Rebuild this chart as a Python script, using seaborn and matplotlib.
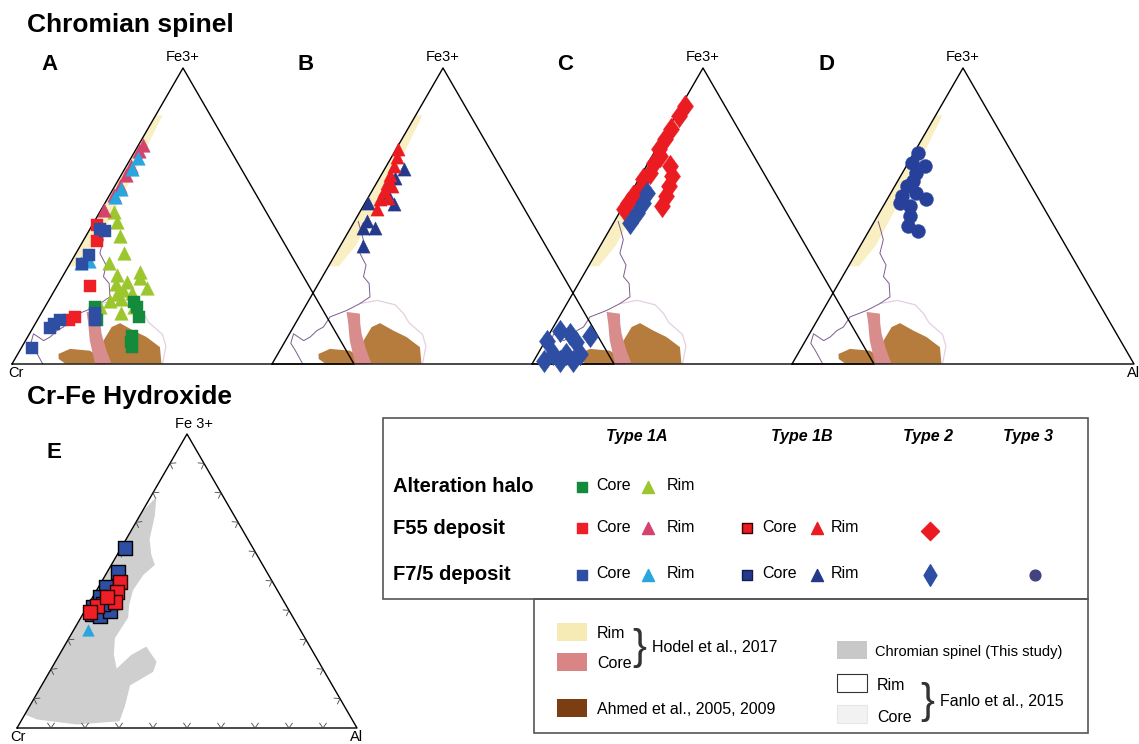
import numpy as np
import pandas as pd
import matplotlib
matplotlib.use("Agg")
import matplotlib.pyplot as plt
from matplotlib.patches import Polygon, Rectangle
import seaborn as sns

sns.set_style("white")
plt.rcParams['font.family'] = ['Liberation Sans', 'DejaVu Sans']
plt.rcParams['text.color'] = 'black'

# ---- data (ternary fractions: Fe3+ and Al, Cr is the rest) ----
# panel A - Type 1A
a_f55_rim_fe = [0.74, 0.72, 0.67, 0.64, 0.60, 0.57, 0.52]
a_f55_rim_al = [0.012, 0.010, 0.012, 0.014, 0.015, 0.012, 0.010]
a_f75_rim_fe = [0.695, 0.66, 0.59, 0.565, 0.342, 0.348]
a_f75_rim_al = [0.02, 0.02, 0.025, 0.02, 0.03, 0.05]
a_alt_rim_fe = [0.513, 0.481, 0.433, 0.374, 0.342, 0.31, 0.30, 0.278, 0.257, 0.235,
                0.214, 0.193, 0.193, 0.171, 0.29, 0.24, 0.22, 0.27, 0.25]
a_alt_rim_al = [0.041, 0.067, 0.10, 0.14, 0.112, 0.22, 0.157, 0.197, 0.267, 0.19,
                0.181, 0.162, 0.259, 0.232, 0.23, 0.23, 0.21, 0.17, 0.20]
a_f55_core_fe = [0.471, 0.417, 0.262, 0.16, 0.15]
a_f55_core_al = [0.013, 0.04, 0.098, 0.105, 0.091]
a_f75_core_fe = [0.455, 0.449, 0.369, 0.337, 0.15, 0.134, 0.123, 0.053, 0.171, 0.15]
a_f75_core_al = [0.031, 0.048, 0.04, 0.036, 0.066, 0.055, 0.051, 0.032, 0.158, 0.169]
a_alt_core_fe = [0.193, 0.15, 0.209, 0.193, 0.16, 0.096, 0.075, 0.059]
a_alt_core_al = [0.147, 0.174, 0.252, 0.269, 0.29, 0.303, 0.309, 0.321]

# panel B - Type 1B
b_f55_rim_fe = [0.726, 0.70, 0.669, 0.64, 0.612, 0.585, 0.556, 0.522, 0.60, 0.56]
b_f55_rim_al = [0.005, 0.015, 0.021, 0.025, 0.03, 0.035, 0.038, 0.045, 0.05, 0.06]
b_f75_rim_fe = [0.658, 0.629, 0.578, 0.539, 0.544, 0.482, 0.459, 0.459, 0.397]
b_f75_rim_al = [0.056, 0.046, 0.047, 0.086, 0.01, 0.036, 0.038, 0.073, 0.068]

# panel C - Type 2
c_f55_fe = [0.873, 0.839, 0.794, 0.76, 0.726, 0.703, 0.68, 0.646, 0.624, 0.59, 0.567,
            0.544, 0.522, 0.669, 0.635, 0.601, 0.567, 0.533]
c_f55_al = [0.01, 0.01, 0.008, 0.01, 0.008, 0.024, 0.016, 0.023, 0.014, 0.021, 0.013,
            0.008, 0.008, 0.07, 0.093, 0.1, 0.107, 0.114]
c_f75_fe = [0.578, 0.544, 0.51, 0.476, 0.079, 0.113, 0.102, 0.074, 0.096, 0.034, 0.034,
            0.034, 0.011, 0.011, 0.011]
c_f75_al = [0.047, 0.054, 0.051, 0.049, 0.005, 0.024, 0.059, 0.093, 0.121, 0.044, 0.083,
            0.122, 0.031, 0.075, 0.114]

# panel D - Type 3
d_fe = [0.714, 0.68, 0.669, 0.646, 0.618, 0.601, 0.567, 0.578, 0.556, 0.544, 0.533,
        0.499, 0.465, 0.448]
d_al = [0.01, 0.01, 0.054, 0.041, 0.045, 0.035, 0.037, 0.075, 0.115, 0.044, 0.078,
        0.095, 0.108, 0.145]

# panel E - Cr-Fe hydroxide
e_f75_core_fe = [0.613, 0.532, 0.48, 0.445, 0.41, 0.387, 0.382, 0.399, 0.428, 0.422]
e_f75_core_al = [0.01, 0.032, 0.023, 0.021, 0.019, 0.026, 0.053, 0.074, 0.069, 0.043]
e_f55_core_fe = [0.497, 0.462, 0.428, 0.416, 0.445, 0.393]
e_f55_core_al = [0.054, 0.062, 0.074, 0.026, 0.041, 0.018]
e_f75_rim_fe = [0.335]
e_f75_rim_al = [0.042]

# literature fields
hodel_rim_fe = [0.84, 0.84, 0.70, 0.55, 0.40, 0.33, 0.33]
hodel_rim_al = [0.0, 0.02, 0.03, 0.04, 0.045, 0.03, 0.0]
hodel_core_fe = [0.176, 0.17, 0.136, 0.102, 0.05, 0.0, 0.0, 0.079, 0.136]
hodel_core_al = [0.13, 0.172, 0.19, 0.211, 0.25, 0.291, 0.243, 0.188, 0.155]
ahmed_fe = [0.034, 0.051, 0.045, 0.028, 0.079, 0.125, 0.138, 0.113, 0.091, 0.057, 0.002, 0.002, 0.017]
ahmed_al = [0.119, 0.144, 0.205, 0.238, 0.228, 0.229, 0.247, 0.298, 0.348, 0.404, 0.436, 0.154, 0.128]
fanlo_rim_fe = [0.482, 0.45, 0.42, 0.374, 0.334, 0.295, 0.272, 0.227, 0.204, 0.181, 0.159,
                0.125, 0.113, 0.091, 0.079, 0.102, 0.07, 0.045, 0.0]
fanlo_rim_al = [0.011, 0.035, 0.057, 0.07, 0.108, 0.12, 0.148, 0.173, 0.155, 0.128, 0.09,
                0.088, 0.075, 0.066, 0.053, 0.012, 0.02, 0.046, 0.09]
fanlo_core_fe = [0.204, 0.215, 0.2, 0.17, 0.14, 0.12, 0.10, 0.06, 0.0]
fanlo_core_al = [0.155, 0.2, 0.26, 0.3, 0.33, 0.36, 0.39, 0.42, 0.44]
spinel_fe = [0.734, 0.786, 0.723, 0.642, 0.59, 0.555, 0.52, 0.468, 0.42, 0.376, 0.306, 0.25,
             0.202, 0.249, 0.277, 0.225, 0.191, 0.145, 0.075, 0.023, 0.012, 0.029, 0.046]
spinel_al = [0.0, 0.017, 0.044, 0.069, 0.10, 0.128, 0.111, 0.107, 0.12, 0.139, 0.135, 0.16,
             0.192, 0.212, 0.242, 0.298, 0.305, 0.26, 0.28, 0.29, 0.17, 0.044, 0.0]

# ---- layout: left vertex x, base y, half base, height (pixels) ----
FRAMES = {'A': (12, 364, 171, 296), 'B': (272, 364, 171, 296),
          'C': (532, 364, 171, 296), 'D': (792, 364, 171, 296),
          'E': (17, 728, 170, 294)}

# tall diamond used for Type 2
TALL_D = [(0, 1), (0.72, 0), (0, -1), (-0.72, 0), (0, 1)]


def tern(panel, fe, al):
    x0, y0, hb, h = FRAMES[panel]
    fe = np.asarray(fe, float)
    al = np.asarray(al, float)
    return x0 + (al + fe / 2) * 2 * hb, y0 - fe * h


def field(ax, panel, fe, al, fc, z=1):
    x, y = tern(panel, fe, al)
    ax.add_patch(Polygon(np.column_stack([x, y]), closed=True, fc=fc, ec='none', zorder=z))


def outline(ax, panel, fe, al, color, lw):
    x, y = tern(panel, fe, al)
    ax.plot(x, y, color=color, lw=lw, zorder=2)


def pts(ax, panel, fe, al, marker, color, s, ec=None, lw=0.3):
    x, y = tern(panel, fe, al)
    df = pd.DataFrame({'x': x, 'y': y})
    sns.scatterplot(data=df, x='x', y='y', marker=marker, color=color, s=s,
                    edgecolor=ec if ec else color, linewidth=lw, ax=ax,
                    legend=False, zorder=5)


def frame(ax, panel, ticks=False):
    x0, y0, hb, h = FRAMES[panel]
    ax.plot([x0, x0 + hb, x0 + 2 * hb, x0], [y0, y0 - h, y0, y0], color='black', lw=1.0, zorder=3)
    if ticks:
        verts = np.array([[x0, y0], [x0 + 2 * hb, y0], [x0 + hb, y0 - h]])
        cen = verts.mean(axis=0)
        for i in range(3):
            p, q = verts[i], verts[(i + 1) % 3]
            t = (q - p) / np.linalg.norm(q - p)
            n = cen - (p + q) / 2
            n = n / np.linalg.norm(n)
            for f in np.arange(0.1, 0.95, 0.1):
                c = p + f * (q - p)
                for sgn in (-1, 1):
                    d = n * np.cos(np.radians(35)) + sgn * t * np.sin(np.radians(35))
                    ax.plot([c[0], c[0] + 6 * d[0]], [c[1], c[1] + 6 * d[1]],
                            color='#444444', lw=0.6, zorder=3)


fig = plt.figure(figsize=(11.39, 7.44), dpi=100)
ax = fig.add_axes([0, 0, 1, 1])

# colours
C_F55_RIM = '#d4436c'
C_F75_RIM = '#2aa6df'
C_F75_CORE = '#2d4ea2'
C_F55_CORE = '#ee1f26'
C_ALT_CORE = '#148a3c'
C_ALT_RIM = '#9cc62e'
C_DBLUE = '#25398a'
C_RED = '#ea1c22'

for p in ['A', 'B', 'C', 'D']:
    field(ax, p, hodel_rim_fe, hodel_rim_al, '#faefc2')
    field(ax, p, ahmed_fe, ahmed_al, '#b67c3e')
    field(ax, p, hodel_core_fe, hodel_core_al, '#d98c8c', z=1.5)
    outline(ax, p, fanlo_core_fe, fanlo_core_al, '#e4cfe2', 0.9)
    outline(ax, p, fanlo_rim_fe, fanlo_rim_al, '#7d5c8f', 0.7)
    frame(ax, p)
    x0, y0, hb, h = FRAMES[p]
    ax.text(x0 + hb, y0 - h - 11, 'Fe3+', ha='center', va='center', fontsize=10.5)

# panel A
pts(ax, 'A', a_alt_rim_fe, a_alt_rim_al, '^', C_ALT_RIM, 95)
pts(ax, 'A', a_alt_core_fe, a_alt_core_al, 's', C_ALT_CORE, 80)
pts(ax, 'A', a_f55_rim_fe, a_f55_rim_al, '^', C_F55_RIM, 95)
pts(ax, 'A', a_f75_rim_fe, a_f75_rim_al, '^', C_F75_RIM, 95)
pts(ax, 'A', a_f55_core_fe, a_f55_core_al, 's', C_F55_CORE, 80)
pts(ax, 'A', a_f75_core_fe, a_f75_core_al, 's', C_F75_CORE, 80)
# panel B
pts(ax, 'B', b_f75_rim_fe, b_f75_rim_al, '^', C_DBLUE, 90)
pts(ax, 'B', b_f55_rim_fe, b_f55_rim_al, '^', C_RED, 90)
# panel C
pts(ax, 'C', c_f55_fe, c_f55_al, TALL_D, C_RED, 260)
pts(ax, 'C', c_f75_fe, c_f75_al, TALL_D, C_F75_CORE, 260)
# panel D
pts(ax, 'D', d_fe, d_al, 'o', '#27409a', 100)

# panel E
field(ax, 'E', spinel_fe, spinel_al, '#cfcfcf')
frame(ax, 'E', ticks=True)
pts(ax, 'E', e_f75_rim_fe, e_f75_rim_al, '^', C_F75_RIM, 70)
pts(ax, 'E', e_f75_core_fe, e_f75_core_al, 's', C_F75_CORE, 110, ec='black', lw=1.0)
pts(ax, 'E', e_f55_core_fe, e_f55_core_al, 's', C_F55_CORE, 90, ec='#2a0000', lw=1.0)

# labels on the diagrams
ax.text(27, 25, 'Chromian spinel', fontsize=19, fontweight='bold', va='center', ha='left')
ax.text(27, 397, 'Cr-Fe Hydroxide', fontsize=19, fontweight='bold', va='center', ha='left')
for lab, x in zip(['A', 'B', 'C', 'D'], [50, 306, 565, 827]):
    ax.text(x, 64, lab, fontsize=16, fontweight='bold', ha='center', va='center')
ax.text(54, 452, 'E', fontsize=16, fontweight='bold', ha='center', va='center')
ax.text(8, 366, 'Cr', fontsize=10.5, ha='left', va='top')
ax.text(1127, 366, 'Al', fontsize=10.5, ha='left', va='top')
ax.text(194, 424, 'Fe 3+', fontsize=10.5, ha='center', va='center')
ax.text(10, 730, 'Cr', fontsize=10.5, ha='left', va='top')
ax.text(350, 730, 'Al', fontsize=10.5, ha='left', va='top')

# ---- legend boxes ----
ax.add_patch(Rectangle((383, 418), 705, 181, fill=False, ec='#555555', lw=1.2, zorder=4))
ax.add_patch(Rectangle((534, 599), 554, 134, fill=False, ec='#555555', lw=1.2, zorder=4))

for txt, x in zip(['Type 1A', 'Type 1B', 'Type 2', 'Type 3'], [637, 802, 928, 1028]):
    ax.text(x, 436, txt, fontsize=11.5, fontweight='bold', style='italic', ha='center', va='center')
rows = [487, 528, 575]
for txt, y in zip(['Alteration halo', 'F55 deposit', 'F7/5 deposit'], rows):
    ax.text(393, y, txt, fontsize=14.5, fontweight='bold', ha='left', va='center')

col1 = [(C_ALT_CORE, C_ALT_RIM), (C_F55_CORE, C_F55_RIM), (C_F75_CORE, C_F75_RIM)]
for (cc, cr), y in zip(col1, rows):
    ax.scatter([582], [y], marker='s', s=60, c=cc, zorder=5)
    ax.text(596, y - 1, 'Core', fontsize=11.5, ha='left', va='center')
    ax.scatter([648], [y], marker='^', s=75, c=cr, zorder=5)
    ax.text(667, y - 1, 'Rim', fontsize=11.5, ha='left', va='center')
for (cc, ec, cr), y in zip([(C_RED, '#3a0000', C_RED), (C_DBLUE, '#101d50', C_DBLUE)], rows[1:]):
    ax.scatter([747], [y], marker='s', s=60, c=cc, edgecolors=ec, linewidths=1.0, zorder=5)
    ax.text(762, y - 1, 'Core', fontsize=11.5, ha='left', va='center')
    ax.scatter([817], [y], marker='^', s=75, c=cr, zorder=5)
    ax.text(831, y - 1, 'Rim', fontsize=11.5, ha='left', va='center')
ax.scatter([930], [rows[1] + 3], marker='D', s=85, c=C_RED, zorder=5)
ax.scatter([930], [rows[2]], marker='d', s=120, c=C_F75_CORE, zorder=5)
ax.scatter([1035], [rows[2]], marker='o', s=60, c='#434380', zorder=5)

sw = [(572, 632, '#f7ebb5', 'none'), (572, 662, '#d98585', 'none'), (572, 708, '#7a3e12', 'none'),
      (852, 650, '#c8c8c8', 'none'), (852, 683, 'white', '#333333'), (852, 714, '#f2f2f2', '#e6e6e6')]
for x, y, fc, ec in sw:
    ax.add_patch(Rectangle((x - 15, y - 9), 30, 18, fc=fc, ec=ec, lw=0.8, zorder=4))
ax.text(597, 633, 'Rim', fontsize=11.5, ha='left', va='center')
ax.text(597, 664, 'Core', fontsize=11.5, ha='left', va='center')
ax.text(632, 648, '}', fontsize=30, ha='left', va='center', fontweight='light', color='#333333')
ax.text(652, 647, 'Hodel et al., 2017', fontsize=11.5, ha='left', va='center')
ax.text(597, 710, 'Ahmed et al., 2005, 2009', fontsize=11.5, ha='left', va='center')
ax.text(875, 652, 'Chromian spinel (This study)', fontsize=10.5, ha='left', va='center')
ax.text(877, 685, 'Rim', fontsize=11.5, ha='left', va='center')
ax.text(877, 718, 'Core', fontsize=11.5, ha='left', va='center')
ax.text(920, 702, '}', fontsize=30, ha='left', va='center', fontweight='light', color='#333333')
ax.text(940, 702, 'Fanlo et al., 2015', fontsize=11.5, ha='left', va='center')

ax.set_xlim(0, 1139)
ax.set_ylim(744, 0)
ax.set_axis_off()
fig.savefig('out.png', dpi=100)
